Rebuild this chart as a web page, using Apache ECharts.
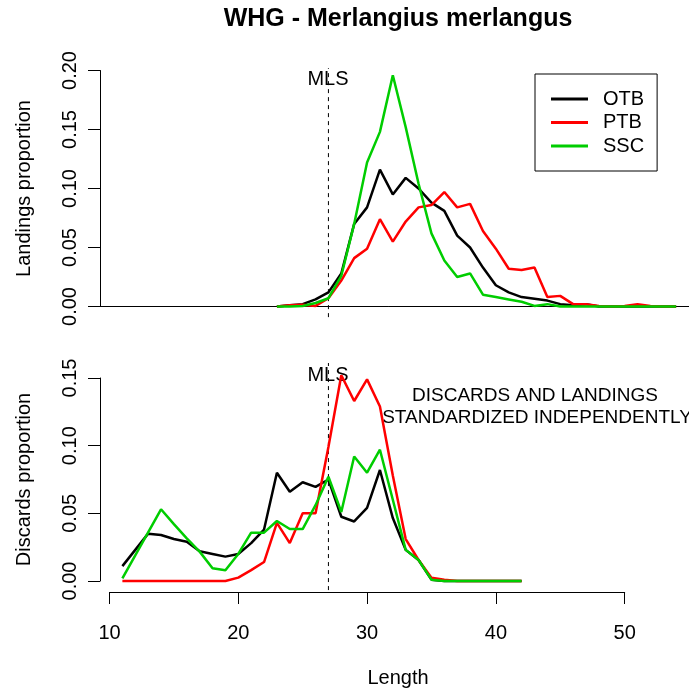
<!DOCTYPE html>
<html><head><meta charset="utf-8">
<script src="https://cdn.jsdelivr.net/npm/echarts@6/dist/echarts.min.js"></script>
<style>html,body{margin:0;padding:0;background:#fff}#c{width:689px;height:692px}</style>
</head><body><div id="c"></div>
<script>
// ---- data ----
const seriesNames = ['OTB', 'PTB', 'SSC'];
const lengthsLand = [23,24,25,26,27,28,29,30,31,32,33,34,35,36,37,38,39,40,41,42,43,44,45,46,47,48,49,50,51,52,53,54];
const otbLand = [0,0.001,0.002,0.006,0.012,0.028,0.070,0.084,0.116,0.095,0.109,0.100,0.088,0.081,0.060,0.050,0.033,0.018,0.012,0.008,0.0065,0.005,0.002,0.001,0.002,0,0,0,0,0,0,0];
const ptbLand = [0,0.001,0.0015,0.0005,0.007,0.022,0.041,0.049,0.074,0.055,0.072,0.084,0.086,0.097,0.084,0.087,0.064,0.049,0.032,0.031,0.033,0.008,0.009,0.002,0.002,0.0005,0,0.0005,0.002,0.0005,0,0];
const sscLand = [0,0,0.0005,0.003,0.007,0.026,0.070,0.122,0.148,0.196,0.152,0.104,0.062,0.039,0.025,0.028,0.010,0.008,0.006,0.004,0.0005,0.002,0,0,0,0,0,0,0,0,0,0];
const lengthsDisc = [11,12,13,14,15,16,17,18,19,20,21,22,23,24,25,26,27,28,29,30,31,32,33,34,35,36,37,38,39,40,41,42];
const otbDisc = [0.011,0.023,0.035,0.034,0.031,0.029,0.022,0.020,0.018,0.020,0.028,0.038,0.080,0.066,0.073,0.0695,0.075,0.0475,0.044,0.054,0.082,0.0465,0.023,0.0155,0.001,0,0,0,0,0,0,0];
const ptbDisc = [0,0,0,0,0,0,0,0,0,0.0025,0.008,0.014,0.043,0.028,0.050,0.050,0.099,0.152,0.133,0.149,0.129,0.078,0.031,0.0155,0.0025,0.001,0,0,0,0,0,0];
const sscDisc = [0.002,0.019,0.036,0.053,0.042,0.0315,0.0217,0.0094,0.008,0.020,0.0357,0.0357,0.0443,0.0384,0.0384,0.056,0.077,0.051,0.092,0.080,0.097,0.060,0.023,0.0155,0.001,0,0,0,0,0,0,0];
const mls = 27;
const xTicks = [10, 20, 30, 40, 50];
const landTicks = [0, 0.05, 0.10, 0.15, 0.20];
const discTicks = [0, 0.05, 0.10, 0.15];

// ---- layout / style ----
const FONT = '"Liberation Sans", Arial, sans-serif';
const colors = ['#000000', '#ff0000', '#00cd00'];
const usrTop = [-0.009, 0.202];
const usrBot = [-0.0067, 0.161];
const xMin = 8.4, xMax = 55;

const pair = (xs, ys) => xs.map((x, i) => [x, ys[i]]);

function lineSeries(name, xs, ys, idx, color) {
  return {
    type: 'line', name: name, data: pair(xs, ys),
    xAxisIndex: idx, yAxisIndex: idx,
    symbol: 'none', showSymbol: false, clip: false,
    lineStyle: { color: color, width: 2.5 }, itemStyle: { color: color },
    emphasis: { disabled: true }, animation: false, z: 3
  };
}
function mlsSeries(idx, range) {
  return {
    type: 'line', name: 'MLS', data: [[mls, range[0]], [mls, range[1]]],
    xAxisIndex: idx, yAxisIndex: idx, symbol: 'none', clip: false,
    lineStyle: { color: '#000', width: 1, type: [4, 4] },
    emphasis: { disabled: true }, animation: false, z: 2, silent: true
  };
}
function yAxisDef(idx, max, name) {
  return {
    type: 'value', gridIndex: idx, min: 0, max: max, interval: 0.05,
    offset: -11.1,
    axisLine: { show: true, lineStyle: { color: '#000', width: 1 } },
    axisTick: { show: true, length: 12, lineStyle: { color: '#000' } },
    splitLine: { show: false },
    axisLabel: { rotate: 90, margin: 20, fontSize: 20, fontFamily: FONT, color: '#000',
      formatter: v => v.toFixed(2) },
    name: name, nameLocation: 'middle', nameRotate: 90, nameGap: 66,
    nameTextStyle: { fontSize: 20, fontFamily: FONT, color: '#000' }
  };
}

const option = {
  backgroundColor: '#fff',
  animation: false,
  grid: [
    { left: 88.9, right: 0, top: 70.5, height: 236 },
    { left: 88.9, right: 0, top: 378, height: 203 },
    { left: 109.5, width: 515.2, top: 560, height: 32 }
  ],
  xAxis: [
    { type: 'value', gridIndex: 0, min: xMin, max: xMax,
      axisLine: { show: true, onZero: false, lineStyle: { color: '#000', width: 1 } },
      axisTick: { show: false }, axisLabel: { show: false }, splitLine: { show: false } },
    { type: 'value', gridIndex: 1, min: xMin, max: xMax, show: false },
    { type: 'value', gridIndex: 2, min: xTicks[0], max: xTicks[xTicks.length - 1], interval: 10,
      axisLine: { show: true, onZero: false, lineStyle: { color: '#000', width: 1 } },
      axisTick: { show: true, length: 12, lineStyle: { color: '#000' } },
      splitLine: { show: false },
      axisLabel: { margin: 31, fontSize: 20, fontFamily: FONT, color: '#000' } }
  ],
  yAxis: [
    yAxisDef(0, landTicks[landTicks.length - 1], 'Landings proportion'),
    yAxisDef(1, discTicks[discTicks.length - 1], 'Discards proportion'),
    { type: 'value', gridIndex: 2, min: 0, max: 1, show: false }
  ],
  legend: {
    data: seriesNames, orient: 'vertical', left: 535, top: 74,
    padding: [15, 13, 15, 16], itemGap: 3.5, itemWidth: 37, itemHeight: 3,
    icon: 'rect', selectedMode: false,
    borderColor: '#000', borderWidth: 1, borderRadius: 0, backgroundColor: '#fff',
    textStyle: { fontSize: 20, fontFamily: FONT, color: '#000', lineHeight: 20, padding: [0, 0, 0, 10] }
  },
  series: [
    mlsSeries(0, usrTop),
    lineSeries(seriesNames[0], lengthsLand, otbLand, 0, colors[0]),
    lineSeries(seriesNames[1], lengthsLand, ptbLand, 0, colors[1]),
    lineSeries(seriesNames[2], lengthsLand, sscLand, 0, colors[2]),
    mlsSeries(1, usrBot),
    lineSeries(seriesNames[0], lengthsDisc, otbDisc, 1, colors[0]),
    lineSeries(seriesNames[1], lengthsDisc, ptbDisc, 1, colors[1]),
    lineSeries(seriesNames[2], lengthsDisc, sscDisc, 1, colors[2]),
    { type: 'line', data: [], xAxisIndex: 2, yAxisIndex: 2 }
  ],
  graphic: [
    { type: 'text', x: 398, y: 19, style: { text: 'WHG - Merlangius merlangus', fontSize: 25, fontWeight: 'bold', fontFamily: FONT, fill: '#000', align: 'center', verticalAlign: 'middle' } },
    { type: 'text', x: 328, y: 79, style: { text: 'MLS', fontSize: 20, fontFamily: FONT, fill: '#000', align: 'center', verticalAlign: 'middle' } },
    { type: 'text', x: 328, y: 375, style: { text: 'MLS', fontSize: 20, fontFamily: FONT, fill: '#000', align: 'center', verticalAlign: 'middle' } },
    { type: 'text', x: 535, y: 396, style: { text: 'DISCARDS AND LANDINGS', fontSize: 19, fontFamily: FONT, fill: '#000', align: 'center', verticalAlign: 'middle' } },
    { type: 'text', x: 537, y: 418, style: { text: 'STANDARDIZED INDEPENDENTLY', fontSize: 19, fontFamily: FONT, fill: '#000', align: 'center', verticalAlign: 'middle' } },
    { type: 'text', x: 398, y: 678, style: { text: 'Length', fontSize: 20, fontFamily: FONT, fill: '#000', align: 'center', verticalAlign: 'middle' } }
  ]
};
const chart = echarts.init(document.getElementById('c'), null, { renderer: 'canvas' });
chart.setOption(option);
</script>
</body></html>
